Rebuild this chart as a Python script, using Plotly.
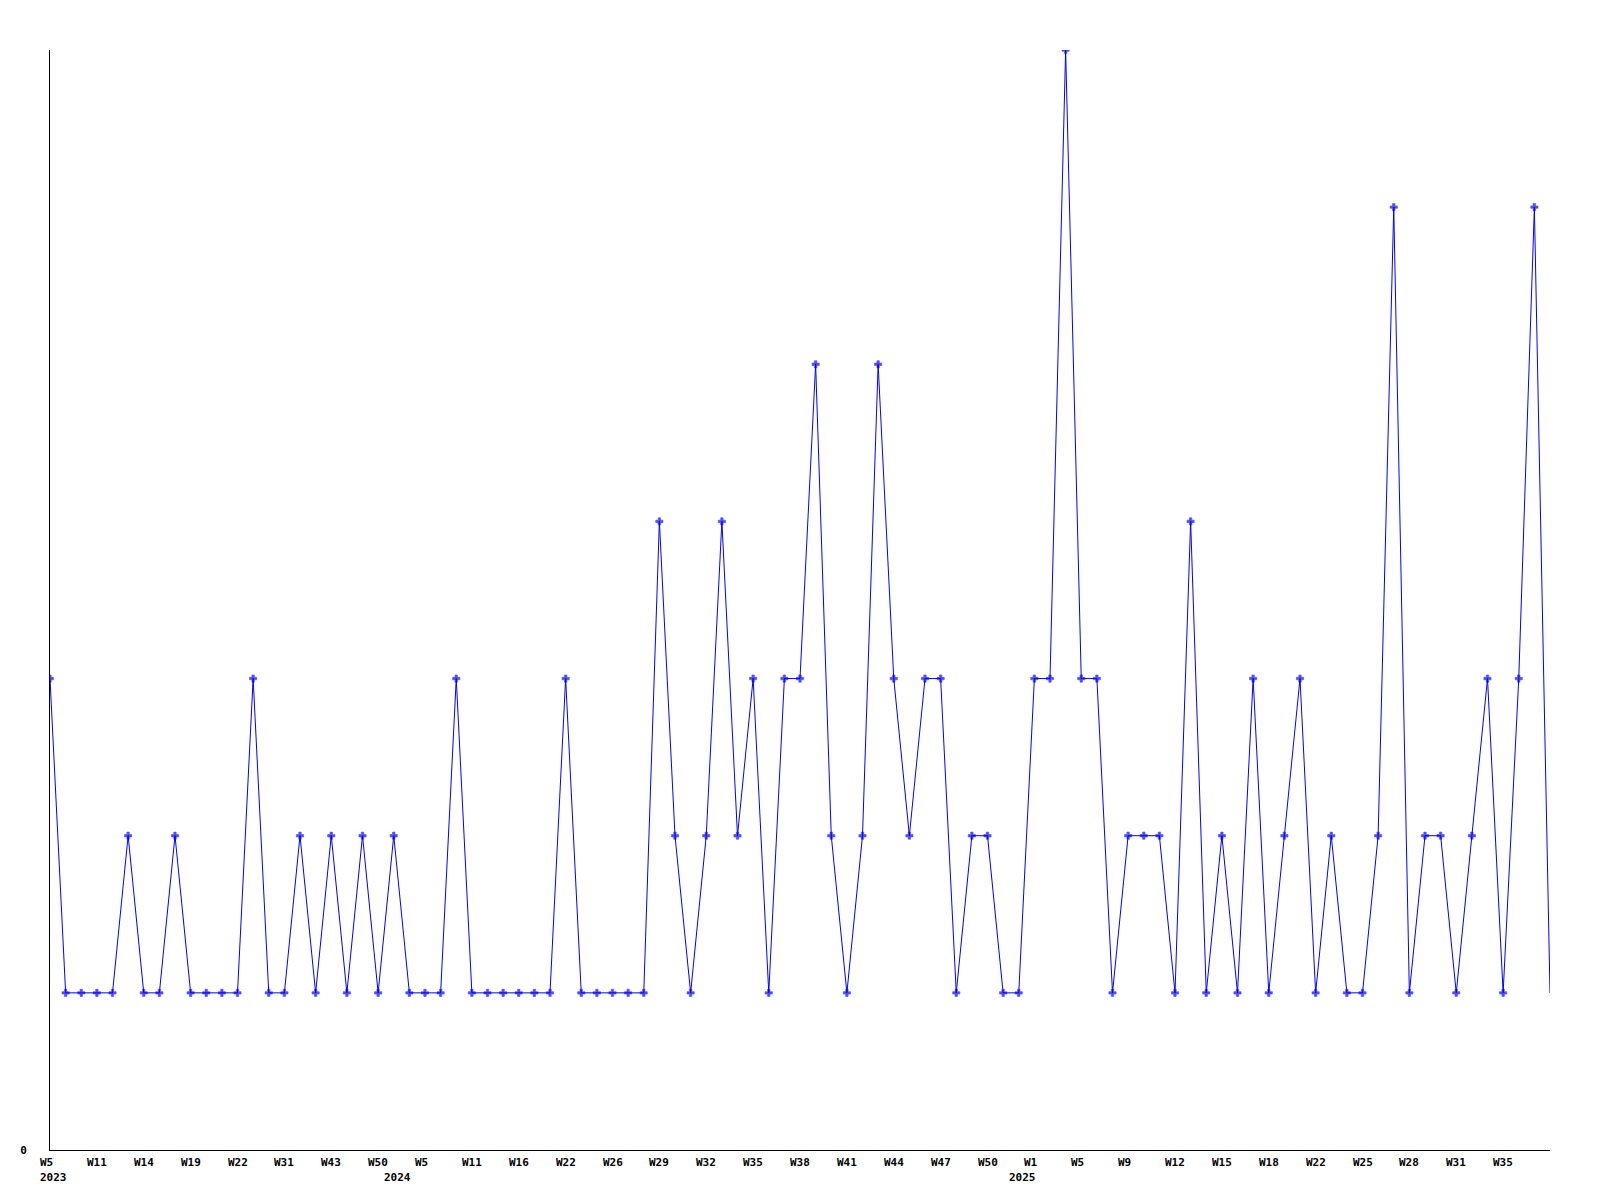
import plotly.graph_objects as go

# weekly counts, one entry per plotted week
counts = [
    3, 1, 1, 1, 1, 2, 1, 1, 2, 1, 1, 1, 1, 3, 1, 1, 2, 1, 2, 1, 2, 1, 2, 1, 1, 1,
    3, 1, 1, 1, 1, 1, 1, 3, 1, 1, 1, 1, 1, 4, 2, 1, 2, 4, 2, 3, 1, 3, 3, 5,
    2, 1, 2, 5, 3, 2, 3, 3, 1, 2, 2, 1, 1, 3, 3, 7, 3, 3, 1, 2, 2, 2, 1, 4, 1, 2, 1,
    3, 1, 2, 3, 1, 2, 1, 1, 2, 6, 1, 2, 2, 1, 2, 3, 1, 3, 6, 1,
]

# labels shown on every third week
week_labels = [
    "W5", "W11", "W14", "W19", "W22", "W31", "W43", "W50",
    "W5", "W11", "W16", "W22", "W26", "W29", "W32", "W35",
    "W38", "W41", "W44", "W47", "W50",
    "W1", "W5", "W9", "W12", "W15", "W18", "W22", "W25", "W28", "W31", "W35",
]
# year label -> index of the first plotted week of that year
years = ["2023", "2024", "2025"]
year_first_week = [0, 22, 62]

x = list(range(len(counts)))
tickvals = x[::3][:len(week_labels)]

# the last week is drawn without a marker in the original
marker_sizes = [6] * (len(counts) - 1) + [0]

fig = go.Figure()
fig.add_trace(go.Scatter(
    x=x, y=counts, mode="lines+markers",
    line=dict(color="#0000ff", width=1),
    marker=dict(symbol="cross", size=marker_sizes, color="#0000ff",
                line=dict(color="#0000ff", width=0.6)),
    showlegend=False,
))

tick_font = dict(family="DejaVu Sans Mono", size=11, color="black", weight="bold")

# labels hang left-aligned from their week, like the original renderer
for tv, lab in zip(tickvals, week_labels):
    fig.add_annotation(x=tv, xref="x", y=0, yref="paper", text=lab,
                       showarrow=False, xanchor="left", yanchor="top",
                       xshift=-12, yshift=-4, font=tick_font)
for yi, yr in zip(year_first_week, years):
    fig.add_annotation(x=yi, xref="x", y=0, yref="paper", text=yr,
                       showarrow=False, xanchor="left", yanchor="top",
                       xshift=-12, yshift=-19, font=tick_font)

fig.update_layout(
    width=1600, height=1200,
    margin=dict(l=42, r=58, t=42, b=58),
    paper_bgcolor="white", plot_bgcolor="white",
    xaxis=dict(
        range=[0, len(counts) - 1],
        tickmode="array", tickvals=tickvals, showticklabels=False,
        showgrid=False, zeroline=False,
        showline=True, linecolor="black", linewidth=1,
        ticks="", automargin=False,
    ),
    yaxis=dict(
        range=[0, 7],
        tickmode="array", tickvals=[0], ticktext=["0"],
        showgrid=False, zeroline=False,
        showline=True, linecolor="black", linewidth=1,
        ticks="", tickfont=tick_font, ticklabelstandoff=20,
        automargin=False,
    ),
)

fig.write_html("out.html")
